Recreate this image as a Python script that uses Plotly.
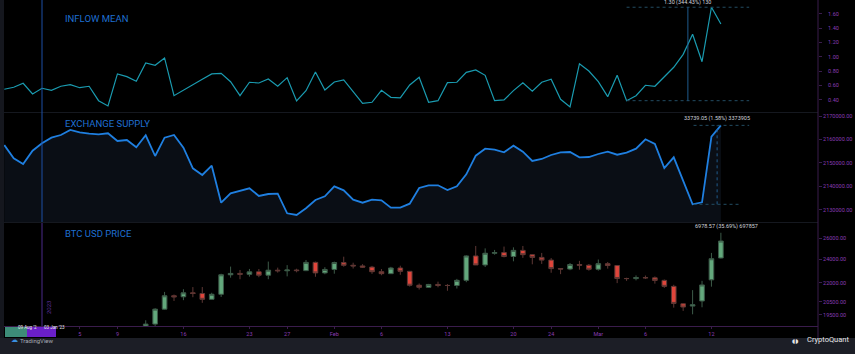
import numpy as np
import pandas as pd
import plotly.graph_objects as go
from plotly.subplots import make_subplots

# ---------------- data ----------------
dates = pd.date_range("2022-12-28", periods=77, freq="D")

inflow_mean = [0.545, 0.573, 0.629, 0.480, 0.559, 0.531, 0.587, 0.609, 0.567, 0.587,
               0.386, 0.312, 0.759, 0.721, 0.657, 0.912, 0.880, 0.982, 0.456, 0.535,
               0.609, 0.685, 0.759, 0.768, 0.651, 0.456, 0.643, 0.633, 0.689, 0.587,
               0.707, 0.382, 0.526, 0.787, 0.535, 0.647, 0.675, 0.512, 0.350, 0.364,
               0.531, 0.433, 0.424, 0.605, 0.712, 0.364, 0.386, 0.637, 0.643, 0.782,
               0.814, 0.740, 0.386, 0.396, 0.526, 0.637, 0.517, 0.643, 0.685, 0.406,
               0.298, 0.902, 0.800, 0.651, 0.442, 0.740, 0.386, 0.456, 0.601, 0.587,
               0.717, 0.852, 1.033, 1.312, 0.930, 1.690, 1.456]

exchange_supply = [2157650, 2151966, 2149530, 2155214, 2158376, 2160769, 2161923, 2164060,
                   2163077, 2162479, 2162222, 2162650, 2159359, 2159786, 2156667, 2161795,
                   2152949, 2160769, 2161923, 2156496, 2147692, 2144829, 2148803, 2132991,
                   2137009, 2138120, 2139145, 2135855, 2136709, 2136838, 2128462, 2127735,
                   2130598, 2134145, 2135726, 2140000, 2138291, 2134274, 2132991, 2134274,
                   2134017, 2130855, 2130855, 2132564, 2139274, 2140427, 2140427, 2138419,
                   2140000, 2145128, 2153077, 2156068, 2155641, 2154530, 2157350, 2154786,
                   2150812, 2151667, 2153376, 2154530, 2154658, 2152393, 2152521, 2153803,
                   2154786, 2153504, 2154359, 2156068, 2160085, 2158077, 2147821, 2152393,
                   2142692, 2132300, 2133162, 2161197, 2166040]

btc_open = [16706, 16547, 16633, 16607, 16542, 16617, 16672, 16675, 16851, 16831,
            16950, 16943, 17127, 17179, 17440, 17944, 18846, 19930, 20952, 20872,
            21185, 21133, 20677, 21071, 22666, 22783, 22707, 22917, 22632, 23060,
            23009, 23075, 23023, 23743, 22827, 23125, 23731, 23489, 23431, 23327,
            22932, 22763, 23249, 22962, 21797, 21626, 21862, 21782, 21774, 22199,
            24323, 23517, 24568, 24631, 24272, 24836, 24439, 24190, 23947, 23200,
            23158, 23555, 23492, 23141, 23629, 23466, 22354, 22346, 22430, 22409,
            22196, 21705, 20330, 20160, 20550, 22240, 24140]
btc_high = [16785, 16664, 16677, 16644, 16628, 16799, 16778, 16991, 16880, 17041,
            16982, 17176, 17398, 17499, 18000, 19117, 19999, 21259, 21050, 21474,
            21647, 21650, 21192, 22755, 23372, 23078, 23167, 23162, 23816, 23282,
            23500, 23186, 23960, 23814, 23320, 23812, 24255, 23715, 23587, 23433,
            23158, 23350, 23452, 22994, 21938, 21906, 22090, 21890, 22322, 24380,
            25250, 25021, 24877, 25192, 25121, 25250, 24476, 24600, 24132, 23219,
            23689, 23880, 23600, 23999, 23781, 23476, 22420, 22614, 22603, 22527,
            22268, 21833, 20367, 21400, 22160, 24600, 26528]
btc_low = [16465, 16488, 16334, 16470, 16499, 16548, 16607, 16652, 16753, 16679,
           16909, 16911, 17094, 17146, 17315, 17910, 18714, 19888, 20551, 20611,
           20841, 20407, 20659, 20861, 22422, 22292, 22512, 22462, 22293, 22850,
           22534, 22878, 22978, 22500, 22715, 22760, 23363, 23204, 23253, 22745,
           22628, 22745, 22665, 21688, 21451, 21599, 21630, 21351, 21532, 22047,
           23505, 23339, 24436, 24192, 23840, 24148, 23574, 23608, 22841, 22722,
           23059, 23106, 23020, 23020, 23195, 21971, 22157, 22198, 22308, 21927,
           21580, 20042, 19800, 19549, 20070, 21680, 24091]
btc_close = [16547, 16633, 16607, 16542, 16616, 16672, 16675, 16850, 16831, 16950,
             16943, 17127, 17178, 17440, 17944, 18846, 19930, 20954, 20871, 21185,
             21133, 20677, 21071, 22667, 22783, 22707, 22916, 22633, 23060, 23009,
             23074, 23023, 23743, 22827, 23125, 23732, 23488, 23431, 23326, 22932,
             22762, 23249, 22963, 21796, 21625, 21862, 21783, 21773, 22199, 24324,
             23517, 24569, 24631, 24271, 24836, 24439, 24189, 23947, 23198, 23157,
             23555, 23492, 23141, 23629, 23466, 22355, 22346, 22430, 22409, 22196,
             21705, 20363, 20090, 20260, 21820, 24070, 25720]

x_tick_dates = ["2023-01-05", "2023-01-09", "2023-01-16", "2023-01-23", "2023-01-27",
                "2023-02-01", "2023-02-06", "2023-02-13", "2023-02-20", "2023-02-24",
                "2023-03-01", "2023-03-06", "2023-03-13"]
x_tick_text = ["5", "9", "16", "23", "27", "Feb", "6", "13", "20", "24", "Mar", "6", "12"]
inflow_ticks = [0.4, 0.6, 0.8, 1.0, 1.2, 1.4, 1.6]
supply_ticks = [2130000, 2140000, 2150000, 2160000, 2170000]
price_ticks = [19500, 20500, 22000, 24000, 26000]

# ---------------- geometry helpers ----------------
W, H = 855, 354
ML, MR, MT, MB = 4, 37, 0, 28
PW, PH = W - ML - MR, H - MT - MB


def px(xp):
    return (xp - ML) / PW


def py(yp):
    return (PH - yp) / PH


def day(d):
    return (dates[0] + pd.Timedelta(days=d)).isoformat()


PURPLE = "#8a3cb4"
AXLINE = "#3a1c4c"
TITLE = "#1f6fd1"
FONT = "Roboto"

fig = make_subplots(rows=3, cols=1, shared_xaxes=True, vertical_spacing=0.003)

fig.add_trace(go.Scatter(x=dates, y=inflow_mean, mode="lines",
                         line=dict(color="#1a9bb0", width=1.2), hoverinfo="skip"),
              row=1, col=1)
fig.add_trace(go.Scatter(x=dates, y=exchange_supply, mode="lines", fill="tozeroy",
                         fillcolor="#0a0e15",
                         line=dict(color="#1f7fe0", width=1.8), hoverinfo="skip"),
              row=2, col=1)
fig.add_trace(go.Candlestick(x=dates, open=btc_open, high=btc_high, low=btc_low,
                             close=btc_close,
                             increasing=dict(fillcolor="#63a87c", line=dict(color="#3c5a48", width=1)),
                             decreasing=dict(fillcolor="#e0453b", line=dict(color="#5e3835", width=1)),
                             hoverinfo="skip"),
              row=3, col=1)

x_range = [day(-0.03), day(86.3)]
yax_common = dict(side="right", showgrid=False, zeroline=False, showline=False,
                  ticks="outside", ticklen=3, tickcolor=AXLINE,
                  tickfont=dict(size=5.5, color=PURPLE, family=FONT), fixedrange=True)

fig.update_layout(
    width=W, height=H, margin=dict(l=ML, r=MR, t=MT, b=MB),
    paper_bgcolor="#000000", plot_bgcolor="#000000", showlegend=False,
    xaxis=dict(range=x_range, showgrid=False, zeroline=False, showticklabels=False,
               rangeslider=dict(visible=False)),
    xaxis2=dict(range=x_range, showgrid=False, zeroline=False, showticklabels=False,
                rangeslider=dict(visible=False)),
    xaxis3=dict(range=x_range, showgrid=False, zeroline=False, showline=True,
                linecolor=AXLINE, linewidth=1, ticks="outside", ticklen=2,
                tickcolor=AXLINE, tickvals=x_tick_dates, ticktext=x_tick_text,
                tickfont=dict(size=5.5, color=PURPLE, family=FONT),
                rangeslider=dict(visible=False)),
    yaxis=dict(domain=[py(112), 1], range=[0.228, 1.791], tickvals=inflow_ticks,
               tickformat=".2f", ticklabelstandoff=5, **yax_common),
    yaxis2=dict(domain=[py(222), py(113)], range=[2124744, 2171325], tickvals=supply_ticks,
                tickformat=".2f", **yax_common),
    yaxis3=dict(domain=[0, py(223)], type="log", range=[4.2721, 4.4396],
                tickvals=price_ticks, ticktext=[f"{v:.2f}" for v in price_ticks],
                **yax_common),
)

shapes = []
# left strip and footer bar
shapes.append(dict(type="rect", xref="paper", yref="paper", x0=px(0), x1=0,
                   y0=py(354), y1=1, fillcolor="#15171e", line_width=0, layer="above"))
shapes.append(dict(type="rect", xref="paper", yref="paper", x0=px(0), x1=px(855),
                   y0=py(354), y1=py(338), fillcolor="#1c1e26", line_width=0))
# panel separators
for yp in (112.5, 222.5):
    shapes.append(dict(type="line", xref="paper", yref="paper", x0=px(0), x1=1,
                       y0=py(yp), y1=py(yp), line=dict(color="#15181f", width=1)))
# price-axis separator
shapes.append(dict(type="line", xref="paper", yref="paper", x0=1, x1=1,
                   y0=py(338), y1=1, line=dict(color=AXLINE, width=1)))
# year / cursor vertical line
shapes.append(dict(type="line", xref="x", yref="paper", x0="2023-01-01", x1="2023-01-01",
                   y0=py(222), y1=1, line=dict(color="#1d4fa5", width=1)))
shapes.append(dict(type="line", xref="x", yref="paper", x0="2023-01-01", x1="2023-01-01",
                   y0=0, y1=py(223), line=dict(color="#4a2a8a", width=1)))
# crosshair date boxes
shapes.append(dict(type="rect", xref="paper", yref="paper", x0=px(5), x1=px(27),
                   y0=py(337), y1=py(327), fillcolor="#3d8c78", line_width=0))
shapes.append(dict(type="rect", xref="paper", yref="paper", x0=px(27), x1=px(56),
                   y0=py(337), y1=py(327), fillcolor="#6a1fc9", line_width=0))

# ---- measurement tools ----
MEAS_H = "#224c62"
MEAS_V = "#1f5a8c"
# inflow
lo_i, hi_i = inflow_mean[66], inflow_mean[75]
for v in (lo_i, hi_i):
    shapes.append(dict(type="line", xref="x", yref="y", x0=day(66), x1=day(79),
                       y0=v, y1=v, line=dict(color=MEAS_H, width=1, dash="dot")))
shapes.append(dict(type="line", xref="x", yref="y", x0=day(72.5), x1=day(72.5),
                   y0=lo_i, y1=hi_i, line=dict(color=MEAS_V, width=1)))
# supply
lo_s, hi_s = exchange_supply[73], exchange_supply[76]
shapes.append(dict(type="line", xref="x2", yref="y2", x0=day(73.1), x1=day(79),
                   y0=hi_s, y1=hi_s, line=dict(color=MEAS_H, width=1, dash="dot")))
shapes.append(dict(type="line", xref="x2", yref="y2", x0=day(73.1), x1=day(78),
                   y0=lo_s, y1=lo_s, line=dict(color=MEAS_H, width=1, dash="dot")))
shapes.append(dict(type="line", xref="x2", yref="y2", x0=day(75.6), x1=day(75.6),
                   y0=lo_s, y1=hi_s, line=dict(color=MEAS_V, width=1, dash="dot")))
# price
lo_p, hi_p = np.log10(min(btc_low[60:])), np.log10(max(btc_high[60:]))
for v in (lo_p, hi_p):
    shapes.append(dict(type="line", xref="x3", yref="y3", x0=day(72.1), x1=day(81.1),
                       y0=v, y1=v, line=dict(color=MEAS_H, width=1)))
shapes.append(dict(type="line", xref="x3", yref="y3", x0=day(76.6), x1=day(76.6),
                   y0=lo_p, y1=hi_p, line=dict(color=MEAS_V, width=1)))

fig.update_layout(shapes=shapes)

ann = []
for text, yp in (("INFLOW MEAN", 18.5), ("EXCHANGE SUPPLY", 123.5), ("BTC USD PRICE", 233.5)):
    ann.append(dict(text=text, xref="paper", yref="paper", x=px(63), y=py(yp),
                    xanchor="left", yanchor="middle", showarrow=False,
                    font=dict(size=9.5, color=TITLE, family=FONT)))
MT_FONT = dict(size=5.5, color="#d1d4dc", family=FONT)
ann.append(dict(text="1.30 (344.43%) 130", xref="x", yref="y", x=day(72.5), y=hi_i,
                yanchor="bottom", yshift=-1, showarrow=False, font=MT_FONT))
ann.append(dict(text="33739.05 (1.58%) 3373905", xref="x2", yref="y2", x=day(75.6), y=hi_s,
                yanchor="bottom", yshift=1, showarrow=False, font=MT_FONT))
ann.append(dict(text="6978.57 (35.69%) 697857", xref="x3", yref="y3", x=day(76.6), y=hi_p,
                yanchor="bottom", yshift=1, showarrow=False, font=MT_FONT))
ann.append(dict(text="2023", xref="x3", yref="paper", x="2023-01-01", xshift=6, y=py(316),
                textangle=-90, showarrow=False,
                font=dict(size=6, color="#5b2e98", family=FONT)))
ann.append(dict(text="09 Aug '2", xref="paper", yref="paper", x=px(16), y=py(332),
                showarrow=False, font=dict(size=4.5, color="#e8e8e8", family=FONT)))
ann.append(dict(text="03 Jan '23", xref="paper", yref="paper", x=px(41.5), y=py(332),
                showarrow=False, font=dict(size=4.5, color="#e8e8e8", family=FONT)))
ann.append(dict(text="☁", xref="paper", yref="paper", x=px(9), y=py(346),
                showarrow=False, font=dict(size=7, color="#3a8fe0", family="DejaVu Sans")))
ann.append(dict(text="TradingView", xref="paper", yref="paper", x=px(18), y=py(346),
                xanchor="left", showarrow=False,
                font=dict(size=6, color="#a8abb5", family=FONT)))
ann.append(dict(text="◖◗", xref="paper", yref="paper", x=px(800), y=py(346),
                showarrow=False, font=dict(size=6, color="#e6e6e6", family="DejaVu Sans")))
ann.append(dict(text="CryptoQuant", xref="paper", yref="paper", x=px(851), y=py(346),
                xanchor="right", showarrow=False,
                font=dict(size=7.5, color="#e6e6e6", family=FONT)))
fig.update_layout(annotations=ann)

fig.write_html("out.html")
